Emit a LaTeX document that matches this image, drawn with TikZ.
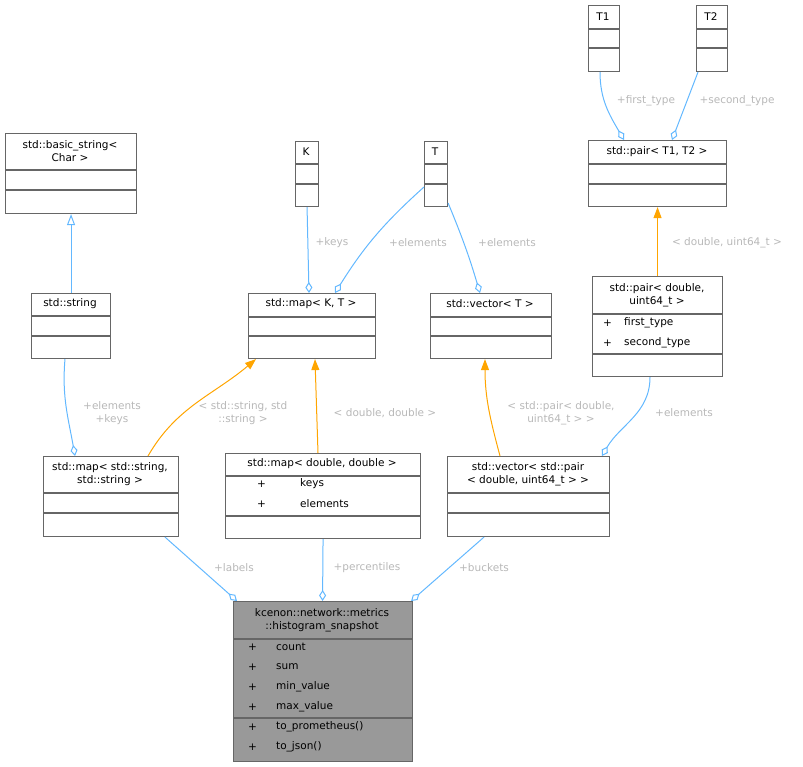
\documentclass[tikz,border=0pt]{standalone}
\usepackage{fontspec}
\setmainfont{DejaVu Sans}
\usetikzlibrary{arrows.meta}
\definecolor{edgeblue}{HTML}{63B8FF}
\definecolor{edgeorange}{HTML}{FFA500}
\definecolor{lblgray}{HTML}{B8B8B8}
\definecolor{boxgray}{HTML}{666666}
\definecolor{histfill}{HTML}{999999}
\tikzset{
 cls/.style={draw=boxgray,line width=1.1pt,inner sep=0pt,fill=white},
 cls line/.style={draw=boxgray,line width=1.1pt},
 ttl/.style={align=center,inner sep=0pt,font=\fontsize{10.5}{12.5}\selectfont},
 txt/.style={anchor=west,inner sep=0pt,font=\fontsize{10.5}{12.5}\selectfont},
 lbl/.style={align=center,inner sep=0pt,text=lblgray,font=\fontsize{10.5}{12.5}\selectfont},
 agg/.style={draw=edgeblue,line width=1pt,-{Diamond[open,length=11pt,width=7pt]}},
 tmpl/.style={draw=edgeorange,line width=1pt,-{Triangle[length=11pt,width=8pt]}},
 inh/.style={draw=edgeblue,line width=1pt,-{Triangle[open,length=11pt,width=8pt]}}
}
% name, x, y, width, height, first line, second line
\newcommand\classbox[8][]{%
 \node[cls,#1,minimum width=#5pt,minimum height=#6pt,anchor=north west] (#2) at (#3,#4) {};
 \draw[cls line] ([yshift=-#7pt]#2.north west) -- ([yshift=-#7pt]#2.north east);
 \draw[cls line] ([yshift=-#8pt]#2.north west) -- ([yshift=-#8pt]#2.north east);}
\begin{document}
\begin{tikzpicture}[x=1pt,y=-1pt]
 \useasboundingbox (0,0) rectangle (803,767);
 % class boxes
 \classbox{bstr}{5}{133}{131}{80}{37}{57}
 \classbox{str}{31}{293}{79}{65}{23}{43}
 \classbox{k}{295}{141}{23}{65}{23}{43}
 \classbox{mapkt}{248}{293}{127}{65}{24}{43}
 \classbox{t}{424}{141}{23}{65}{23}{43}
 \classbox{tone}{588}{5}{31}{66}{24}{43}
 \classbox{ttwo}{696}{5}{31}{66}{24}{43}
 \classbox{pairt}{588}{140}{138}{66}{24}{44}
 \classbox{vect}{430}{293}{121}{65}{24}{43}
 \classbox{paird}{592}{276}{130}{100}{38}{78}
 \classbox{mapss}{43}{456}{135}{80}{37}{57}
 \classbox{mapdd}{225}{453}{195}{85}{23}{63}
 \classbox{vecp}{447}{456}{162}{80}{37}{57}
 \classbox[fill=histfill]{hist}{233}{601}{179}{160}{38}{117}
 % titles and members
 \node[ttl] at (70,151) {std::basic\_string<\\Char >};
 \node[ttl] at (70,304) {std::string};
 \node[ttl] at (306,152) {K};
 \node[ttl] at (311,304) {std::map< K, T >};
 \node[ttl] at (435,152) {T};
 \node[ttl] at (603,17) {T1};
 \node[ttl] at (711,17) {T2};
 \node[ttl] at (657,152) {std::pair< T1, T2 >};
 \node[ttl] at (490,304) {std::vector< T >};
 \node[ttl] at (657,295) {std::pair< double,\\uint64\_t >};
 \node[txt] at (603,323) {+};
 \node[txt] at (624,323) {first\_type};
 \node[txt] at (603,343) {+};
 \node[txt] at (624,343) {second\_type};
 \node[ttl] at (110,474) {std::map< std::string,\\std::string >};
 \node[ttl] at (322,464) {std::map< double, double >};
 \node[txt] at (257,484) {+};
 \node[txt] at (300,484) {keys};
 \node[txt] at (257,504) {+};
 \node[txt] at (300,504) {elements};
 \node[ttl] at (528,474) {std::vector< std::pair\\< double, uint64\_t > >};
 \node[ttl] at (322,620) {kcenon::network::metrics\\::histogram\_snapshot};
 \foreach \y/\m in {647/count,667/sum,687/min\_value,707/max\_value,727/to\_prometheus(),747/to\_json()}{
  \node[txt] at (248,\y) {+};
  \node[txt] at (276,\y) {\m};
 }
 % connectors
 \draw[inh] (str.north) -- (bstr.south);
 \draw[agg] (k.south) -- ([xshift=61pt]mapkt.north west);
 \draw[agg] ([yshift=-46pt]t.north west) to[bend right=8] ([xshift=87pt]mapkt.north west);
 \draw[agg] ([yshift=-62pt]t.north east) to[bend left=3] ([xshift=50pt]vect.north west);
 \draw[agg] ([xshift=12pt]tone.south west) to[out=-90,in=120] ([xshift=36pt]pairt.north west);
 \draw[agg] ([xshift=2pt]ttwo.south west) -- ([xshift=84pt]pairt.north west);
 \draw[tmpl] (paird.north) -- (pairt.south);
 \draw[agg] ([xshift=34pt]str.south west) to[out=-95,in=100] ([xshift=32pt]mapss.north west);
 \draw[tmpl] ([xshift=105pt]mapss.north west) to[out=60,in=-140] ([xshift=8pt]mapkt.south west);
 \draw[tmpl] ([xshift=93pt]mapdd.north west) -- ([xshift=67pt]mapkt.south west);
 \draw[tmpl] ([xshift=53pt]vecp.north west) to[out=105,in=-90] ([xshift=55pt]vect.south west);
 \draw[agg] ([xshift=58pt]paird.south west) to[out=-90,in=60] ([xshift=155pt]vecp.north west);
 \draw[agg] ([xshift=122pt]mapss.south west) -- ([xshift=4pt]hist.north west);
 \draw[agg] (mapdd.south) -- ([xshift=-0.5pt]hist.north);
 \draw[agg] ([xshift=37pt]vecp.south west) -- ([xshift=-2pt]hist.north east);
 % connector labels
 \node[lbl] at (332,243) {+keys};
 \node[lbl] at (418,243) {+elements};
 \node[lbl] at (507,243) {+elements};
 \node[lbl] at (646,101) {+first\_type};
 \node[lbl] at (737,101) {+second\_type};
 \node[lbl] at (727,243) {< double, uint64\_t >};
 \node[lbl] at (112,413) {+elements\\+keys};
 \node[lbl] at (243,413) {< std::string, std\\::string >};
 \node[lbl] at (385,413) {< double, double >};
 \node[lbl] at (561,413) {< std::pair< double,\\uint64\_t > >};
 \node[lbl] at (684,413) {+elements};
 \node[lbl] at (234,568) {+labels};
 \node[lbl] at (367,568) {+percentiles};
 \node[lbl] at (484,568) {+buckets};
\end{tikzpicture}
\end{document}
